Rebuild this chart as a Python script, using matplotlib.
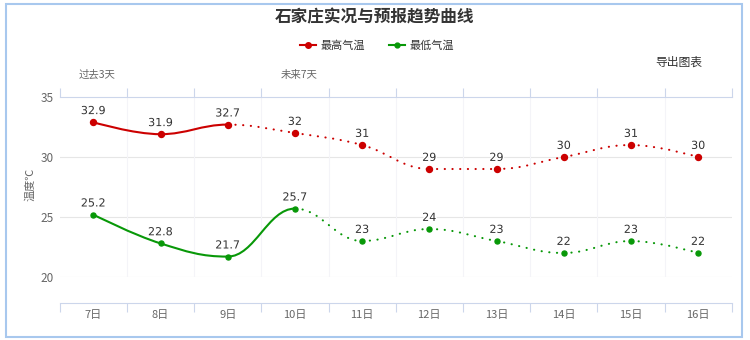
import numpy as np
import matplotlib
matplotlib.use('Agg')
import matplotlib.pyplot as plt
from matplotlib.path import Path
from matplotlib.patches import PathPatch, Rectangle
from matplotlib.lines import Line2D
import matplotlib.patheffects as pe

plt.rcParams['font.family'] = ['Noto Sans CJK SC', 'DejaVu Sans']

# data
days = ['7日', '8日', '9日', '10日', '11日', '12日', '13日', '14日', '15日', '16日']
t_max = [32.9, 31.9, 32.7, 32, 31, 29, 29, 30, 31, 30]
t_min = [25.2, 22.8, 21.7, 25.7, 23, 24, 23, 22, 23, 22]
n_obs_max = 3   # observed points (solid) for the max series
n_obs_min = 4   # observed points (solid) for the min series

red = '#cc0000'
green = '#089808'


def spline_segments(xs, ys):
    """Bezier control points per segment, same smoothing as a highcharts spline"""
    n = len(xs)
    lc = [(xs[i], ys[i]) for i in range(n)]
    rc = [(xs[i], ys[i]) for i in range(n)]
    s = 1.5
    d = s + 1
    for i in range(1, n - 1):
        px, py = xs[i], ys[i]
        lx, ly = xs[i-1], ys[i-1]
        nx, ny = xs[i+1], ys[i+1]
        lcx = (s*px + lx)/d
        lcy = (s*py + ly)/d
        rcx = (s*px + nx)/d
        rcy = (s*py + ny)/d
        corr = ((rcy - lcy)*(rcx - px))/(rcx - lcx) + py - rcy
        lcy += corr
        rcy += corr
        if lcy > ly and lcy > py:
            lcy = max(ly, py); rcy = 2*py - lcy
        elif lcy < ly and lcy < py:
            lcy = min(ly, py); rcy = 2*py - lcy
        if rcy > ny and rcy > py:
            rcy = max(ny, py); lcy = 2*py - rcy
        elif rcy < ny and rcy < py:
            rcy = min(ny, py); lcy = 2*py - rcy
        lc[i] = (lcx, lcy)
        rc[i] = (rcx, rcy)
    segs = []
    for i in range(1, n):
        segs.append([(xs[i-1], ys[i-1]), rc[i-1], lc[i], (xs[i], ys[i])])
    return segs


def draw_series(ax, ys, n_obs, color, ms):
    xs = list(range(len(ys)))
    segs = spline_segments(xs, ys)
    for k, seg in enumerate(segs):
        solid = k < n_obs - 1
        path = Path(seg, [Path.MOVETO, Path.CURVE4, Path.CURVE4, Path.CURVE4])
        patch = PathPatch(path, fill=False, edgecolor=color, lw=1.5,
                          capstyle='round', zorder=3)
        if not solid:
            patch.set_linestyle((0, (0.1, 3.6)))
        ax.add_patch(patch)
    ax.plot(xs, ys, ls='none', marker='o', ms=ms, color=color, zorder=4)
    for x, y in zip(xs, ys):
        ax.annotate(f'{y:g}', (x, y), xytext=(0, 8), textcoords='offset points',
                    ha='center', va='center', fontsize=8, color='#333333',
                    family='DejaVu Sans', zorder=5,
                    path_effects=[pe.withStroke(linewidth=2, foreground='white')])


fig = plt.figure(figsize=(7.5, 3.4), dpi=100)
W, H = 750, 340
ax = fig.add_axes([59.7/W, 1 - 277/H, 672/W, 180/H])

draw_series(ax, t_max, n_obs_max, red, 4.3)
draw_series(ax, t_min, n_obs_min, green, 3.6)

ax.set_xlim(-0.5, len(days) - 0.5)
ax.set_ylim(20, 35)

# x axis: boundary ticks top and bottom, labels on category centres
ax.set_xticks(np.arange(len(days) + 1) - 0.5)
ax.set_xticks(np.arange(len(days)), minor=True)
ax.set_xticklabels([])
ax.set_xticklabels(days, minor=True)
ax.tick_params(axis='x', which='major', top=True, bottom=True, direction='out',
               length=6.5, width=0.8, color='#ccd6eb')
ax.tick_params(axis='x', which='minor', length=0, pad=5, labelsize=8,
               labelcolor='#666666')
ax.spines['bottom'].set_position(('outward', 18.5))
ax.spines['bottom'].set_color('#ccd6eb')
ax.spines['top'].set_color('#ccd6eb')
ax.spines['left'].set_visible(False)
ax.spines['right'].set_visible(False)

ax.set_yticks([20, 25, 30, 35])
ax.tick_params(axis='y', length=0, pad=4, labelsize=8.5, labelcolor='#666666')

for y in [20, 25, 30]:
    ax.axhline(y, color='#e6e6e6', lw=0.8, zorder=1)
for x in np.arange(1, len(days)) - 0.5:
    ax.axvline(x, color='#f4f4f8', lw=0.8, zorder=1)

# texts
fig.text(375/W, 1 - 17/H, '石家庄实况与预报趋势曲线', ha='center', va='center',
         fontsize=12, fontweight='bold', color='#333333')
fig.text(30/W, 1 - 184/H, '温度℃', rotation=90, ha='center', va='center',
         fontsize=8, color='#666666')
fig.text(97/W, 1 - 75/H, '过去3天', ha='center', va='center', fontsize=7.5, color='#666666')
fig.text(299/W, 1 - 75/H, '未来7天', ha='center', va='center', fontsize=7.5, color='#666666')
fig.text(679/W, 1 - 62/H, '导出图表', ha='center', va='center', fontsize=8.5, color='#333333')

handles = [Line2D([], [], color=red, lw=1.5, marker='o', ms=4),
           Line2D([], [], color=green, lw=1.5, marker='o', ms=3.5)]
fig.legend(handles, ['最高气温', '最低气温'], loc='center',
           bbox_to_anchor=(377/W, 1 - 46/H), ncol=2, frameon=False,
           fontsize=8, handlelength=1.4, handletextpad=0.4, columnspacing=2.2,
           labelcolor='#333333')

# outer frame
fig.patches.append(Rectangle((6/W, 3/H), 736/W, 333/H, transform=fig.transFigure,
                             fill=False, edgecolor='#a8c8ee', lw=1.5))

fig.savefig('out.png', dpi=100)
